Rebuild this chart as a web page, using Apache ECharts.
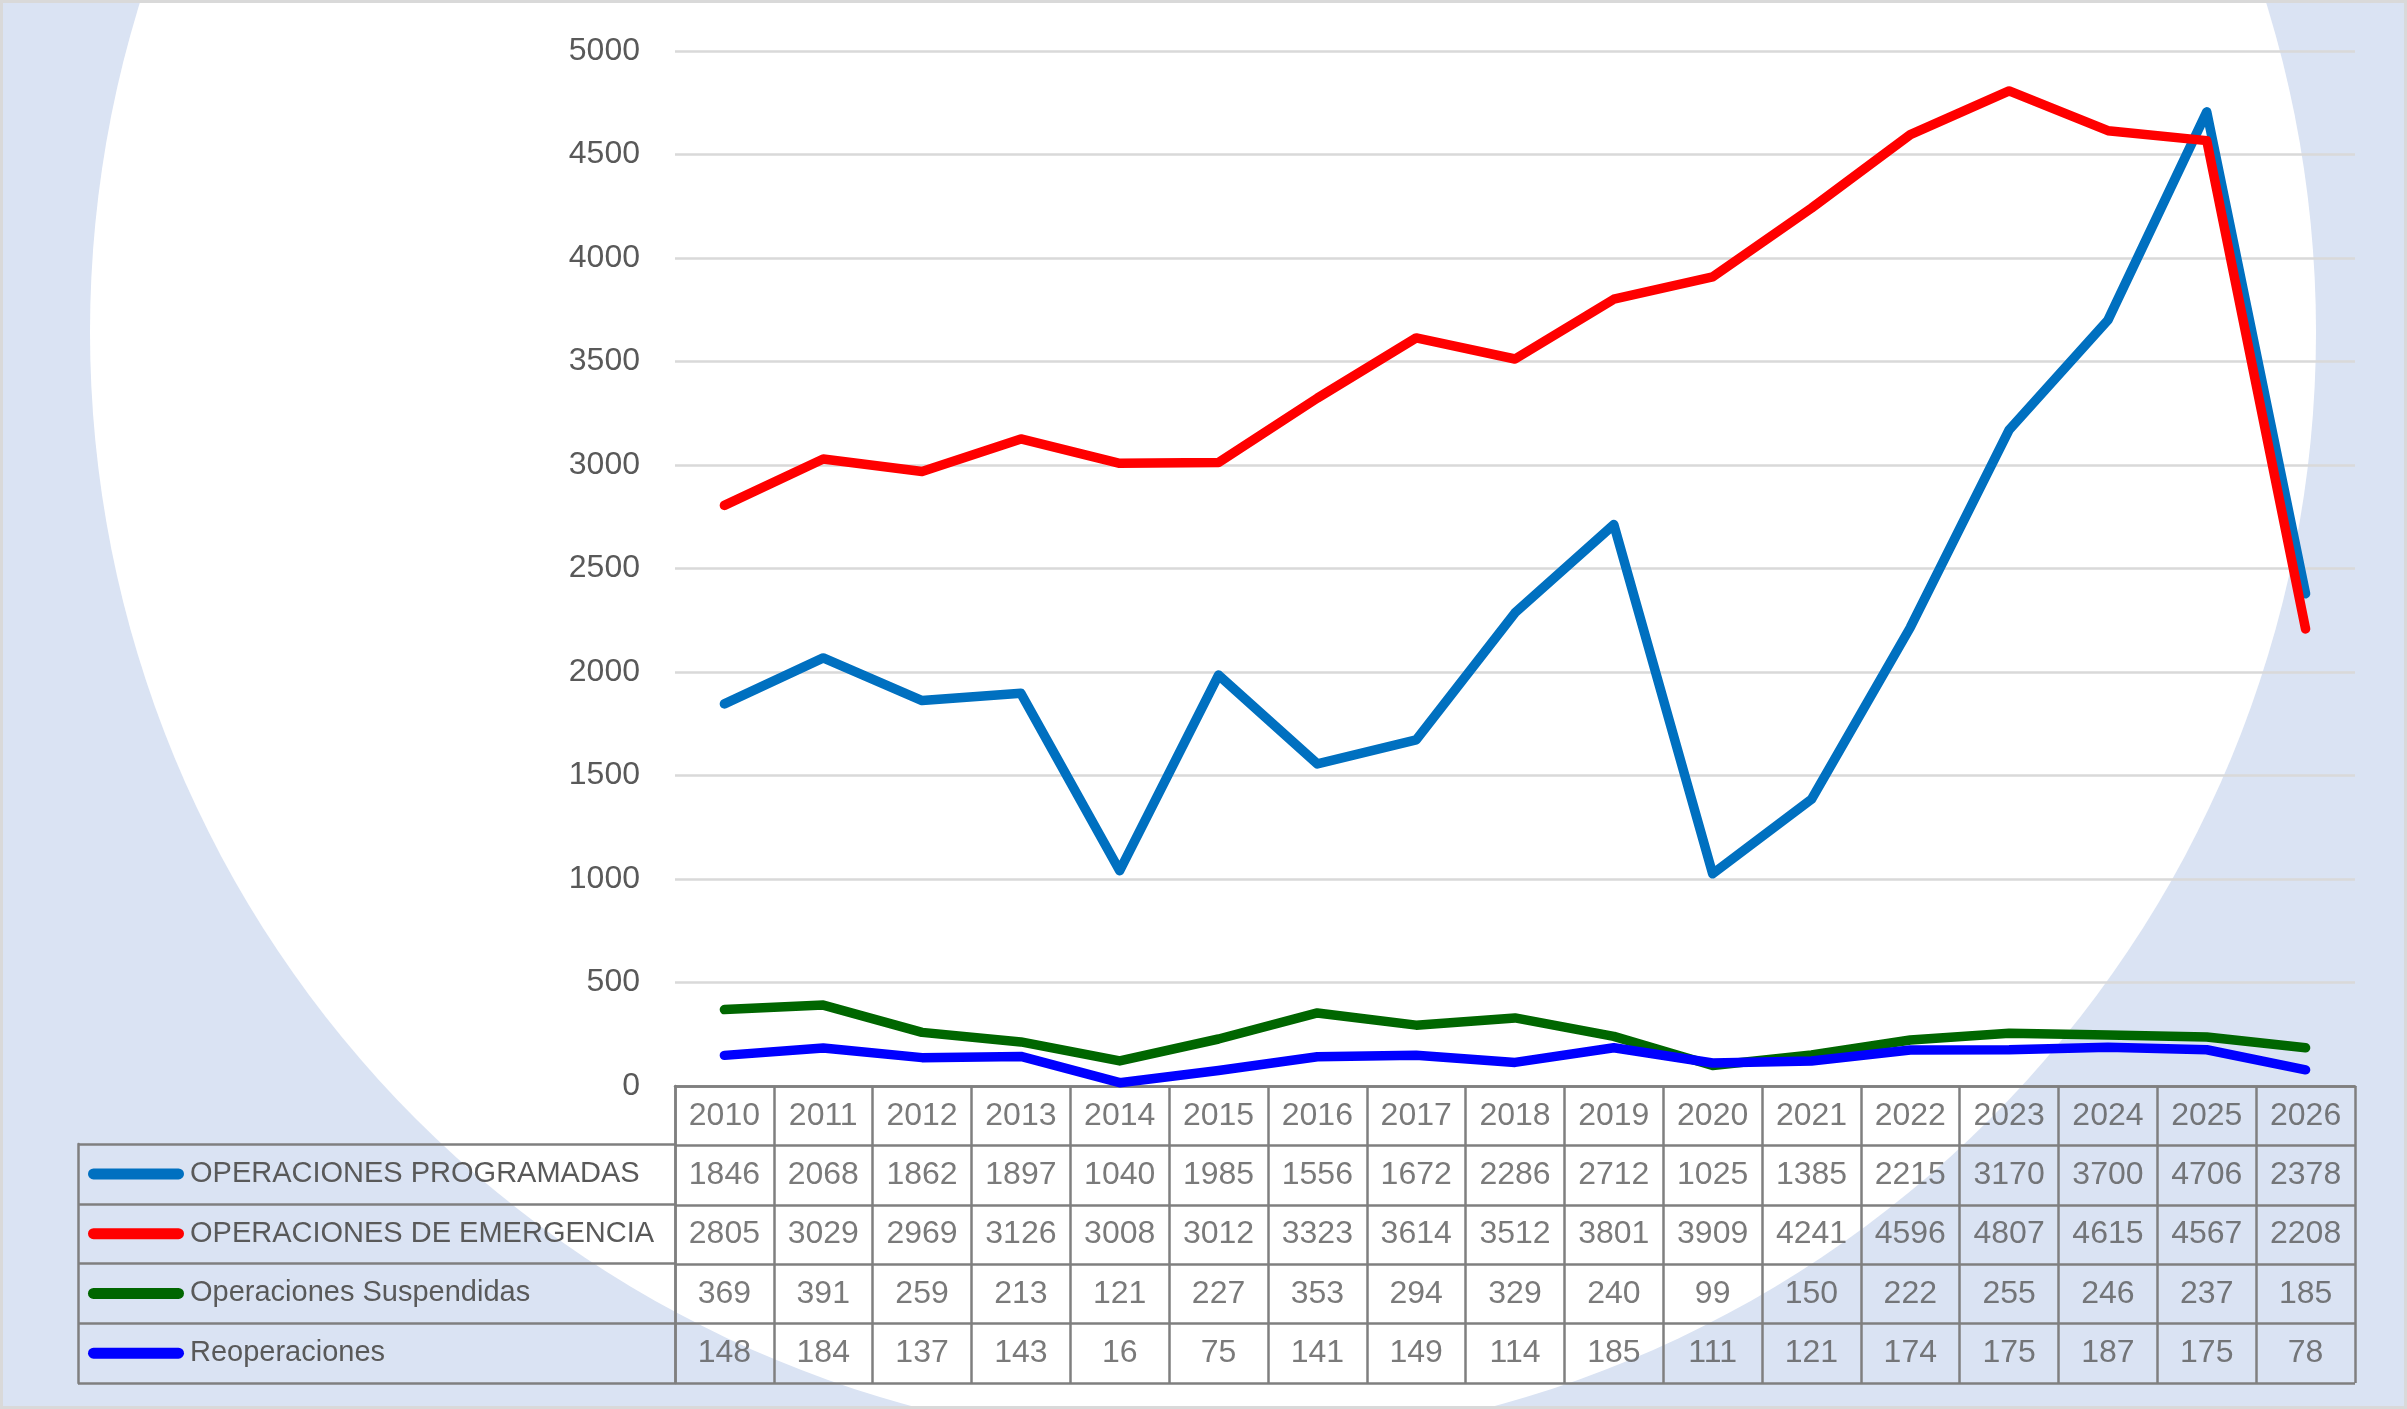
<!DOCTYPE html>
<html>
<head>
<meta charset="utf-8">
<script src="https://cdn.jsdelivr.net/npm/echarts@6/dist/echarts.min.js"></script>
<style>
  html, body { margin: 0; padding: 0; background: #DAE3F3; }
  #chart { width: 2407px; height: 1409px; }
</style>
</head>
<body>
<div id="chart"></div>
<script>
// data
const years = ['2010', '2011', '2012', '2013', '2014', '2015', '2016', '2017', '2018',
  '2019', '2020', '2021', '2022', '2023', '2024', '2025', '2026'];
const programadas = [1846, 2068, 1862, 1897, 1040, 1985, 1556, 1672, 2286, 2712, 1025, 1385, 2215, 3170, 3700, 4706, 2378];
const emergencia = [2805, 3029, 2969, 3126, 3008, 3012, 3323, 3614, 3512, 3801, 3909, 4241, 4596, 4807, 4615, 4567, 2208];
const suspendidas = [369, 391, 259, 213, 121, 227, 353, 294, 329, 240, 99, 150, 222, 255, 246, 237, 185];
const reoperaciones = [148, 184, 137, 143, 16, 75, 141, 149, 114, 185, 111, 121, 174, 175, 187, 175, 78];

const seriesNames = ['OPERACIONES PROGRAMADAS', 'OPERACIONES DE EMERGENCIA', 'Operaciones Suspendidas', 'Reoperaciones'];
const seriesColors = ['#0070C0', '#FF0000', '#006600', '#0000FF'];
const seriesValues = [programadas, emergencia, suspendidas, reoperaciones];

const yMin = 0, yMax = 5000, yStep = 500;

const FONT = 'Liberation Sans';
const TEXT = '#595959';
const BORDER = '#7F7F7F';

const chart = echarts.init(document.getElementById('chart'));

// table rows: header (years) + one row per series
const tableRows = ['hdr'].concat(seriesNames);
const cells = [];
years.forEach((y, i) => cells.push([i, 0, y]));
seriesValues.forEach((vals, r) => {
  vals.forEach((v, i) => cells.push([i, r + 1, String(v)]));
});

const legendRich = { t: { color: TEXT, fontSize: 29, fontFamily: FONT, padding: [0, 0, 0, 6] } };
seriesColors.forEach((c, i) => {
  legendRich['k' + i] = { width: 96, height: 11, backgroundColor: c, borderRadius: 5.5, verticalAlign: 'middle' };
});

const plot = { left: 675, top: 51, width: 1680, height: 1035 };
const table = { left: 675, top: 1086, width: 1680, height: 297 };
const legendCol = { left: 78, top: 1144, width: 597, height: 239 };

chart.setOption({
  backgroundColor: '#DAE3F3',
  animation: false,
  textStyle: { fontFamily: FONT },
  graphic: [
    { type: 'circle', z: -100, silent: true, shape: { cx: 1203, cy: 332, r: 1113 }, style: { fill: '#FFFFFF' } },
    { type: 'rect', z: 100, silent: true, shape: { x: 1.5, y: 1.5, width: 2404, height: 1406 },
      style: { fill: 'none', stroke: '#D9D9D9', lineWidth: 3 } }
  ],
  grid: [
    Object.assign({}, plot),
    Object.assign({}, table),
    Object.assign({}, legendCol)
  ],
  xAxis: [
    {
      gridIndex: 0, type: 'category', data: years, boundaryGap: true,
      axisLine: { show: true, lineStyle: { color: BORDER, width: 2.5 } },
      axisTick: { show: false }, axisLabel: { show: false }, splitLine: { show: false }
    },
    {
      gridIndex: 1, type: 'category', data: years, boundaryGap: true,
      axisLine: { show: false }, axisTick: { show: false }, axisLabel: { show: false },
      splitLine: { show: true, lineStyle: { color: BORDER, width: 2.5 } }
    },
    { gridIndex: 2, type: 'value', min: 0, max: 1, show: false }
  ],
  yAxis: [
    {
      gridIndex: 0, type: 'value', min: yMin, max: yMax, interval: yStep,
      axisLine: { show: false }, axisTick: { show: false },
      axisLabel: { color: TEXT, fontSize: 32, fontFamily: FONT, margin: 35, formatter: v => String(v) },
      splitLine: { lineStyle: { color: '#D9D9D9', width: 2.5 } }
    },
    {
      gridIndex: 1, type: 'category', data: tableRows, inverse: true, boundaryGap: true,
      axisLine: { show: true, lineStyle: { color: BORDER, width: 2.5 } },
      axisTick: { show: false }, axisLabel: { show: false },
      splitLine: { show: true, lineStyle: { color: BORDER, width: 2.5 } }
    },
    {
      gridIndex: 2, type: 'category', data: seriesNames, inverse: true, boundaryGap: true,
      axisLine: { show: true, lineStyle: { color: BORDER, width: 2.5 } },
      axisTick: { show: false },
      axisLabel: {
        inside: true, margin: 10, align: 'left',
        formatter: (v, i) => '{k' + i + '|}{t|' + v + '}',
        rich: legendRich
      },
      splitLine: { show: true, lineStyle: { color: BORDER, width: 2.5 } }
    }
  ],
  series: seriesNames.map((name, i) => ({
    name: name,
    type: 'line',
    xAxisIndex: 0, yAxisIndex: 0,
    data: seriesValues[i],
    showSymbol: false,
    lineStyle: { color: seriesColors[i], width: 9.5, cap: 'round', join: 'round' },
    itemStyle: { color: seriesColors[i] }
  })).concat([{
    name: 'tabla',
    type: 'scatter',
    xAxisIndex: 1, yAxisIndex: 1,
    data: cells,
    symbolSize: 1,
    itemStyle: { color: 'transparent' },
    silent: true,
    label: {
      show: true, position: 'inside', color: TEXT, fontSize: 32, fontFamily: FONT,
      formatter: p => p.value[2]
    }
  }])
});

window.onresize = function () {
  chart.resize();
};
</script>
</body>
</html>
